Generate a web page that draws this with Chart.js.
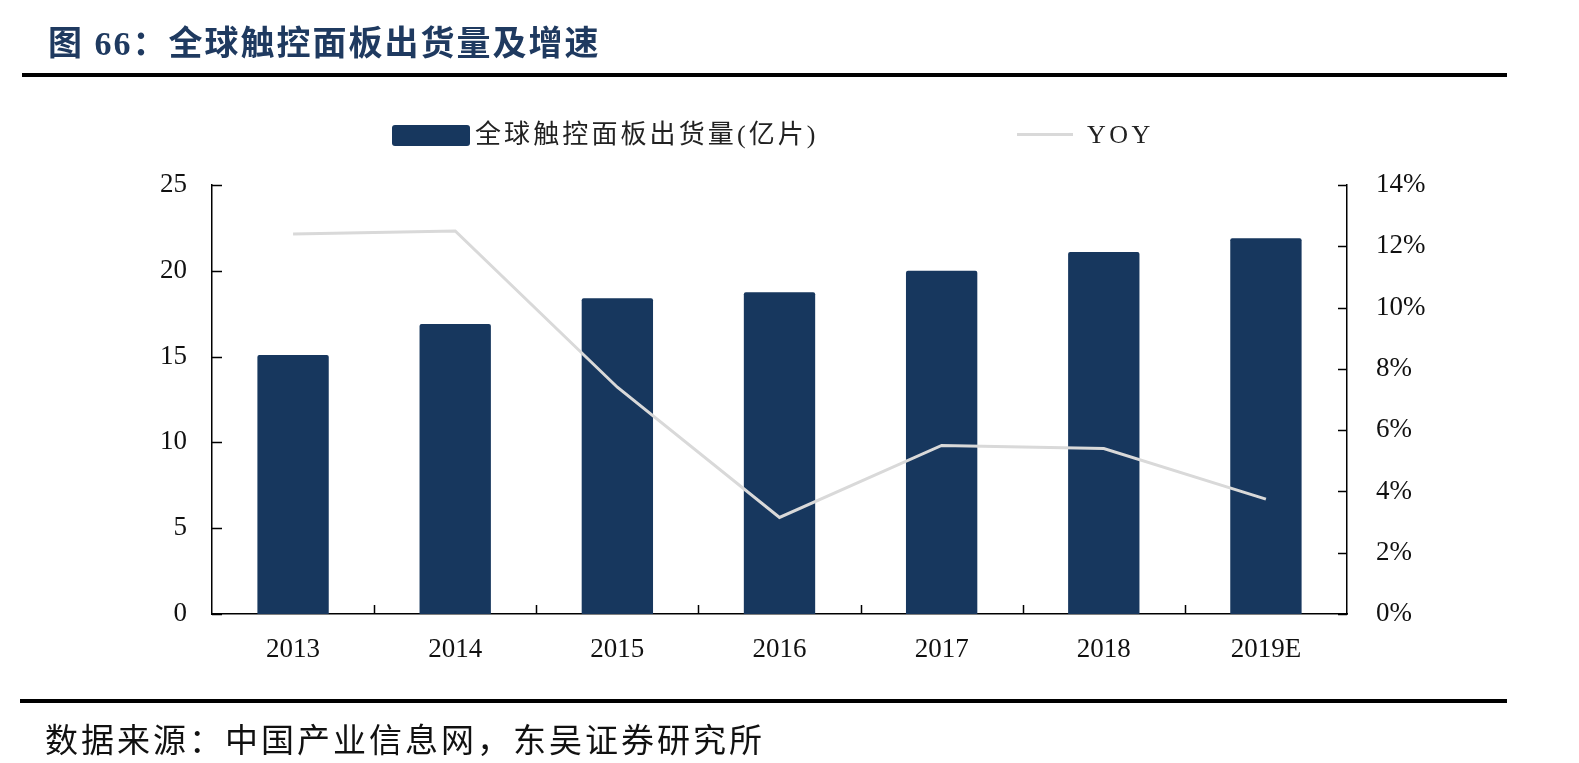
<!DOCTYPE html>
<html>
<head>
<meta charset="utf-8">
<script src="https://cdn.jsdelivr.net/npm/chart.js@4/dist/chart.umd.min.js"></script>
<style>
  html, body { margin: 0; padding: 0; background: #fff; }
  #wrap { position: relative; width: 1579px; height: 763px; overflow: hidden; }
  #c { position: absolute; left: 0; top: 0; }
  .abs { position: absolute; white-space: nowrap; }
  #title { left: 48px; top: 22px; font: bold 34px "Liberation Serif", "Noto Sans CJK SC", serif; color: #1f3a60; letter-spacing: 2px; line-height: 44px; }
  #rule1 { left: 22px; top: 73px; width: 1492px; height: 4px; background: #000; }
  #rule2 { left: 20px; top: 699px; width: 1494px; height: 4px; background: #000; }
  #source { left: 45px; top: 720px; font: 33px "Liberation Serif", "Noto Sans CJK SC", serif; color: #111; letter-spacing: 3px; line-height: 42px; }
  .legtxt { font: 26px "Liberation Serif", "Noto Sans CJK SC", serif; color: #222; letter-spacing: 3px; line-height: 30px; }
</style>
</head>
<body>
<div id="wrap">
  <canvas id="c" width="1579" height="763"></canvas>
  <div id="title" class="abs">图 66：全球触控面板出货量及增速</div>
  <div id="rule1" class="abs" style="width:1485px;"></div>
  <div class="abs" style="left:392px;top:125px;width:78px;height:21px;background:#17375e;border-radius:3px;"></div>
  <div class="abs legtxt" style="left:475px;top:120px;letter-spacing:3.1px;">全球触控面板出货量(亿片)</div>
  <div class="abs" style="left:1017px;top:133px;width:56px;height:3px;background:#d9d9d9;"></div>
  <div class="abs legtxt" style="left:1087px;top:120px;letter-spacing:3.5px;">YOY</div>
  <div id="rule2" class="abs" style="width:1487px;"></div>
  <div id="source" class="abs">数据来源：中国产业信息网，东吴证券研究所</div>
</div>
<script>
const categories = ['2013', '2014', '2015', '2016', '2017', '2018', '2019E'];
const shipments = [15.1, 16.9, 18.4, 18.75, 20.0, 21.1, 21.9];
const yoy = [12.4, 12.5, 7.4, 3.15, 5.5, 5.4, 3.75];
const leftTicks = [0, 5, 10, 15, 20, 25];
const rightTicks = [0, 2, 4, 6, 8, 10, 12, 14];

const W = 1579, H = 763;
const PLOT = { left: 212, right: 1347, top: 185, bottom: 614 };
const serif = '"Liberation Serif", "Noto Sans CJK SC", serif';

const innerTicks = {
  id: 'innerTicks',
  afterDraw(chart) {
    const ctx = chart.ctx, a = chart.chartArea;
    ctx.save();
    ctx.strokeStyle = '#000';
    ctx.lineWidth = 1.5;
    ctx.beginPath();
    const yl = chart.scales.y;
    yl.ticks.forEach(t => {
      const y = Math.round(yl.getPixelForValue(t.value)) + 0.5;
      ctx.moveTo(a.left, y); ctx.lineTo(a.left + 10, y);
    });
    const yr = chart.scales.y2;
    yr.ticks.forEach(t => {
      const y = Math.round(yr.getPixelForValue(t.value)) + 0.5;
      ctx.moveTo(a.right, y); ctx.lineTo(a.right - 9, y);
    });
    const xs = chart.scales.x;
    for (let i = 1; i < categories.length; i++) {
      const x = Math.round((xs.getPixelForValue(i - 1) + xs.getPixelForValue(i)) / 2) + 0.5;
      ctx.moveTo(x, a.bottom); ctx.lineTo(x, a.bottom - 9);
    }
    ctx.stroke();
    ctx.restore();
  }
};

new Chart(document.getElementById('c'), {
  data: {
    labels: categories,
    datasets: [
      {
        type: 'line',
        label: 'YOY',
        data: yoy,
        yAxisID: 'y2',
        borderColor: '#d9d9d9',
        borderWidth: 3,
        pointRadius: 0,
        tension: 0,
        fill: false,
        order: 1
      },
      {
        type: 'bar',
        label: '全球触控面板出货量(亿片)',
        data: shipments,
        yAxisID: 'y',
        backgroundColor: '#17375e',
        borderRadius: 2,
        borderSkipped: 'bottom',
        barPercentage: 0.44,
        categoryPercentage: 1.0,
        order: 2
      }
    ]
  },
  options: {
    responsive: false,
    animation: false,
    devicePixelRatio: 1,
    layout: { padding: { left: 0, right: 0, top: PLOT.top, bottom: 0 } },
    plugins: { legend: { display: false }, tooltip: { enabled: false }, title: { display: false } },
    scales: {
      x: {
        offset: true,
        grid: { display: false, drawTicks: false },
        border: { display: true, color: '#000', width: 1.5 },
        ticks: { color: '#111', font: { family: serif, size: 27 }, padding: 20, maxRotation: 0 },
        afterFit(s) { s.height = H - PLOT.bottom; }
      },
      y: {
        position: 'left',
        min: 0, max: 25,
        afterBuildTicks(s) { s.ticks = leftTicks.map(v => ({ value: v })); },
        grid: { display: false, drawTicks: false },
        border: { display: true, color: '#000', width: 1.5 },
        ticks: { color: '#111', font: { family: serif, size: 27 }, padding: 25 },
        afterFit(s) { s.width = PLOT.left; }
      },
      y2: {
        position: 'right',
        min: 0, max: 14,
        afterBuildTicks(s) { s.ticks = rightTicks.map(v => ({ value: v })); },
        grid: { display: false, drawTicks: false },
        border: { display: true, color: '#000', width: 1.5 },
        ticks: { color: '#111', font: { family: serif, size: 27 }, padding: 29, callback: v => v + '%' },
        afterFit(s) { s.width = W - PLOT.right; }
      }
    }
  },
  plugins: [innerTicks]
});
</script>
</body>
</html>
